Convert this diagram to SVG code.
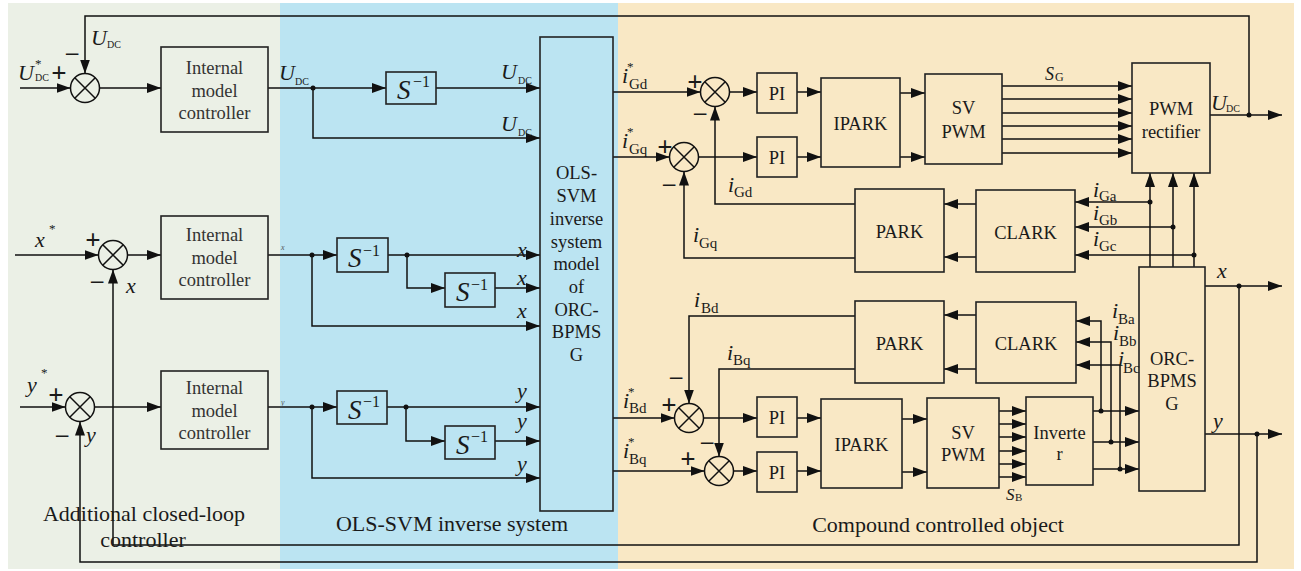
<svg xmlns="http://www.w3.org/2000/svg" width="1301" height="571" viewBox="0 0 1301 571">
<defs>
<marker id="ah" viewBox="0 0 14 10" refX="14" refY="5" markerWidth="14" markerHeight="10" markerUnits="userSpaceOnUse" orient="auto"><path d="M0,0 L14,5 L0,10 z" fill="#111"/></marker>
<style>
.ln{fill:none;stroke:#111;stroke-width:1.5}
.ar{fill:none;stroke:#111;stroke-width:1.5;marker-end:url(#ah)}
.bx{fill:none;stroke:#222;stroke-width:1.6}
.sm{fill:none;stroke:#111;stroke-width:1.5}
.dot{fill:#111}
text{font-family:"Liberation Serif","Times New Roman",serif;fill:#1a1a1a}
.bt{font-size:18.5px;text-anchor:middle}
.gt{fill:#333}
.v{font-style:italic;font-size:22px}
.u{font-style:italic;font-size:22px}
.sub{font-size:15px}
.dc{font-size:10px}
.st{font-size:13px}
.sg{font-size:27px;text-anchor:middle}
.pl{font-weight:bold}
.cap{font-size:22px;text-anchor:middle}
.S{font-style:italic;font-size:27px}
.e{font-size:16px}
.tiny{font-size:8px;font-style:italic;fill:#555}
</style>
</defs>

<g id="panels">
<rect x="8" y="3" width="272" height="566" fill="#EBF0E6"/>
<rect x="280" y="3" width="338" height="566" fill="#BBE4F2"/>
<rect x="618" y="3" width="676" height="566" fill="#F9E8C5"/>
</g>

<g id="connectors">
<path class="ar" d="M20,88 H70.5"/>
<path class="ar" d="M1249,115 V16 H85 V73.5"/>
<path class="ar" d="M99.5,88 H161"/>
<path class="ar" d="M268,88 H386"/>
<path class="ar" d="M436,88 H540"/>
<path class="ar" d="M313,88 V138 H540"/>
<path class="ar" d="M613,92 H700.5"/>
<path class="ar" d="M613,157 H669.5"/>
<path class="ar" d="M729.5,92 H757"/>
<path class="ar" d="M698.5,157 H757"/>
<path class="ar" d="M797,92 H821"/>
<path class="ar" d="M797,157 H821"/>
<path class="ar" d="M900,93 H925"/>
<path class="ar" d="M900,157 H925"/>
<path class="ar" d="M1002,86 H1132"/>
<path class="ar" d="M1002,99 H1132"/>
<path class="ar" d="M1002,113 H1132"/>
<path class="ar" d="M1002,126 H1132"/>
<path class="ar" d="M1002,139 H1132"/>
<path class="ar" d="M1002,153 H1132"/>
<path class="ar" d="M1210,115 H1282"/>
<path class="ar" d="M1150,267 V173"/>
<path class="ar" d="M1173,267 V173"/>
<path class="ar" d="M1194,267 V173"/>
<path class="ar" d="M1150,202 H1075"/>
<path class="ar" d="M1173,227 H1075"/>
<path class="ar" d="M1194,255 H1075"/>
<path class="ar" d="M976,204 H944"/>
<path class="ar" d="M976,257 H944"/>
<path class="ar" d="M855,204 H715 V106.5"/>
<path class="ar" d="M855,258 H684 V171.5"/>

<path class="ar" d="M15,255 H98.5"/>
<path class="ar" d="M127.5,255 H161"/>
<path class="ar" d="M268,255 H337"/>
<path class="ar" d="M388,255 H540"/>
<path class="ar" d="M407,255 V288 H445"/>
<path class="ar" d="M495,288 H540"/>
<path class="ar" d="M312,255 V326 H540"/>
<path class="ar" d="M1205,286 H1282"/>
<path class="ar" d="M1239,286 V545 H113 V269.5"/>

<path class="ar" d="M20,407 H65.5"/>
<path class="ar" d="M94.5,407 H161"/>
<path class="ar" d="M268,407 H337"/>
<path class="ar" d="M387,407 H540"/>
<path class="ar" d="M406,407 V441 H445"/>
<path class="ar" d="M495,441 H540"/>
<path class="ar" d="M312,407 V478 H540"/>
<path class="ar" d="M1205,434 H1282"/>
<path class="ar" d="M1257,434 V562 H80 V421.5"/>

<path class="ar" d="M613,418 H674.5"/>
<path class="ar" d="M613,471 H704.5"/>
<path class="ar" d="M855,316 H689 V403.5"/>
<path class="ar" d="M855,369 H719 V456.5"/>
<path class="ar" d="M703.5,418 H757"/>
<path class="ar" d="M733.5,471 H757"/>
<path class="ar" d="M797,418 H821"/>
<path class="ar" d="M797,471 H821"/>
<path class="ar" d="M902,419 H927"/>
<path class="ar" d="M902,472 H927"/>
<path class="ar" d="M999,411 H1026"/>
<path class="ar" d="M999,424 H1026"/>
<path class="ar" d="M999,437 H1026"/>
<path class="ar" d="M999,451 H1026"/>
<path class="ar" d="M999,464 H1026"/>
<path class="ar" d="M999,477 H1026"/>
<path class="ar" d="M1093,411 H1139"/>
<path class="ar" d="M1093,442 H1139"/>
<path class="ar" d="M1093,469 H1139"/>
<path class="ar" d="M1101,411 V321 H1076"/>
<path class="ar" d="M1111,442 V342 H1076"/>
<path class="ar" d="M1120,469 V365 H1076"/>
<path class="ar" d="M976,315 H944"/>
<path class="ar" d="M976,369 H944"/>

<circle class="dot" cx="313" cy="88" r="2.5"/>
<circle class="dot" cx="1249" cy="115" r="2.5"/>
<circle class="dot" cx="1150" cy="202" r="2.5"/>
<circle class="dot" cx="1173" cy="227" r="2.5"/>
<circle class="dot" cx="1194" cy="255" r="2.5"/>
<circle class="dot" cx="312" cy="255" r="2.5"/>
<circle class="dot" cx="407" cy="255" r="2.5"/>
<circle class="dot" cx="1239" cy="286" r="2.5"/>
<circle class="dot" cx="312" cy="407" r="2.5"/>
<circle class="dot" cx="406" cy="407" r="2.5"/>
<circle class="dot" cx="1257" cy="434" r="2.5"/>
<circle class="dot" cx="1101" cy="411" r="2.5"/>
<circle class="dot" cx="1111" cy="442" r="2.5"/>
<circle class="dot" cx="1120" cy="469" r="2.5"/>
</g>

<g id="sum1"><circle class="sm" cx="85" cy="88" r="14.5"/><path class="sm" d="M74.75,77.75 L95.25,98.25 M95.25,77.75 L74.75,98.25"/></g>
<g id="sum2"><circle class="sm" cx="715" cy="92" r="14.5"/><path class="sm" d="M704.75,81.75 L725.25,102.25 M725.25,81.75 L704.75,102.25"/></g>
<g id="sum3"><circle class="sm" cx="684" cy="157" r="14.5"/><path class="sm" d="M673.75,146.75 L694.25,167.25 M694.25,146.75 L673.75,167.25"/></g>
<g id="sum4"><circle class="sm" cx="113" cy="255" r="14.5"/><path class="sm" d="M102.75,244.75 L123.25,265.25 M123.25,244.75 L102.75,265.25"/></g>
<g id="sum5"><circle class="sm" cx="80" cy="407" r="14.5"/><path class="sm" d="M69.75,396.75 L90.25,417.25 M90.25,396.75 L69.75,417.25"/></g>
<g id="sum6"><circle class="sm" cx="689" cy="418" r="14.5"/><path class="sm" d="M678.75,407.75 L699.25,428.25 M699.25,407.75 L678.75,428.25"/></g>
<g id="sum7"><circle class="sm" cx="719" cy="471" r="14.5"/><path class="sm" d="M708.75,460.75 L729.25,481.25 M729.25,460.75 L708.75,481.25"/></g>

<g id="imc1"><rect class="bx" x="161" y="47" width="107" height="85"/>
<text class="bt gt" x="214.5" y="74">Internal</text><text class="bt gt" x="214.5" y="97">model</text><text class="bt gt" x="214.5" y="119">controller</text></g>
<g id="imc2"><rect class="bx" x="161" y="216" width="107" height="83"/>
<text class="bt gt" x="214.5" y="241">Internal</text><text class="bt gt" x="214.5" y="264">model</text><text class="bt gt" x="214.5" y="286">controller</text></g>
<g id="imc3"><rect class="bx" x="161" y="371" width="107" height="78"/>
<text class="bt gt" x="214.5" y="394">Internal</text><text class="bt gt" x="214.5" y="417">model</text><text class="bt gt" x="214.5" y="439">controller</text></g>

<g id="sinv1"><rect class="bx" x="386" y="72" width="50" height="32"/><text class="S" x="397" y="99">S</text><text class="e" x="413" y="87">−1</text></g>
<g id="sinv2"><rect class="bx" x="337" y="238" width="51" height="34"/><text class="S" x="348" y="267">S</text><text class="e" x="363" y="256">−1</text></g>
<g id="sinv3"><rect class="bx" x="445" y="273" width="50" height="34"/><text class="S" x="456" y="301">S</text><text class="e" x="471" y="290">−1</text></g>
<g id="sinv4"><rect class="bx" x="337" y="391" width="50" height="33"/><text class="S" x="348" y="419">S</text><text class="e" x="363" y="407">−1</text></g>
<g id="sinv5"><rect class="bx" x="445" y="426" width="50" height="33"/><text class="S" x="456" y="454">S</text><text class="e" x="471" y="442">−1</text></g>

<g id="olssvm"><rect class="bx" x="540" y="37" width="73" height="474"/>
<text class="bt" x="576.5" y="179">OLS-</text><text class="bt" x="576.5" y="202">SVM</text><text class="bt" x="576.5" y="225">inverse</text><text class="bt" x="576.5" y="248">system</text><text class="bt" x="576.5" y="270">model</text><text class="bt" x="576.5" y="293">of</text><text class="bt" x="576.5" y="316">ORC-</text><text class="bt" x="576.5" y="338">BPMS</text><text class="bt" x="576.5" y="361">G</text></g>

<g id="pi1"><rect class="bx" x="757" y="73" width="40" height="40"/><text class="bt" x="777" y="100">PI</text></g>
<g id="pi2"><rect class="bx" x="757" y="137" width="40" height="40"/><text class="bt" x="777" y="164">PI</text></g>
<g id="pi3"><rect class="bx" x="757" y="397" width="40" height="40"/><text class="bt" x="777" y="424">PI</text></g>
<g id="pi4"><rect class="bx" x="757" y="452" width="40" height="40"/><text class="bt" x="777" y="479">PI</text></g>

<g id="ipark1"><rect class="bx" x="821" y="78" width="79" height="89"/><text class="bt" x="860.5" y="130">IPARK</text></g>
<g id="ipark2"><rect class="bx" x="821" y="399" width="81" height="89"/><text class="bt" x="861.5" y="451">IPARK</text></g>

<g id="svpwm1"><rect class="bx" x="925" y="74" width="77" height="90"/><text class="bt" x="963.5" y="114">SV</text><text class="bt" x="963.5" y="138">PWM</text></g>
<g id="svpwm2"><rect class="bx" x="927" y="398" width="72" height="90"/><text class="bt" x="963" y="439">SV</text><text class="bt" x="963" y="461">PWM</text></g>

<g id="pwmrect"><rect class="bx" x="1132" y="63" width="78" height="110"/><text class="bt" x="1171" y="115">PWM</text><text class="bt" x="1171" y="138">rectifier</text></g>

<g id="park1"><rect class="bx" x="855" y="189" width="89" height="83"/><text class="bt" x="899.5" y="238">PARK</text></g>
<g id="clark1"><rect class="bx" x="976" y="190" width="99" height="82"/><text class="bt" x="1025.5" y="239">CLARK</text></g>
<g id="park2"><rect class="bx" x="855" y="301" width="89" height="82"/><text class="bt" x="899.5" y="350">PARK</text></g>
<g id="clark2"><rect class="bx" x="976" y="302" width="100" height="81"/><text class="bt" x="1026" y="350">CLARK</text></g>

<g id="orc"><rect class="bx" x="1139" y="267" width="66" height="224"/><text class="bt" x="1172" y="365">ORC-</text><text class="bt" x="1172" y="387">BPMS</text><text class="bt" x="1172" y="410">G</text></g>

<g id="inverter"><rect class="bx" x="1026" y="397" width="67" height="88"/><text class="bt" x="1059.5" y="439">Inverte</text><text class="bt" x="1059.5" y="460">r</text></g>

<g id="labels">
<text class="sg pl" x="59" y="82">+</text><text class="sg" x="72" y="63">−</text>
<text class="sg pl" x="695" y="91">+</text><text class="sg" x="700" y="123">−</text>
<text class="sg pl" x="665" y="156">+</text><text class="sg" x="669" y="194">−</text>
<text class="sg pl" x="93" y="249">+</text><text class="sg" x="97" y="291">−</text>
<text class="sg pl" x="56" y="404">+</text><text class="sg" x="62" y="445">−</text>
<text class="sg pl" x="669" y="414">+</text><text class="sg" x="676" y="387">−</text>
<text class="sg pl" x="688" y="468">+</text><text class="sg" x="707" y="452">−</text>

<text class="u" x="18" y="80">U</text><text class="st" x="35" y="68">*</text><text class="dc" x="35" y="81">DC</text>
<text class="u" x="91" y="45">U</text><text class="dc" x="107" y="48">DC</text>
<text class="u" x="279" y="80">U</text><text class="dc" x="295" y="85">DC</text>
<text class="u" x="501" y="79">U</text><text class="dc" x="518" y="84">DC</text>
<text class="u" x="501" y="131">U</text><text class="dc" x="518" y="136">DC</text>
<text class="u" x="1211" y="110">U</text><text class="dc" x="1226" y="112">DC</text>

<text class="v" x="35" y="247">x</text><text class="st" x="49" y="233">*</text>
<text class="v" x="126" y="293">x</text>
<text class="v" x="27" y="392">y</text><text class="st" x="41" y="377">*</text>
<text class="v" x="86" y="442">y</text>
<text class="tiny" x="281" y="250">x</text>
<text class="tiny" x="281" y="405">y</text>
<text class="v" x="517" y="257">x</text>
<text class="v" x="517" y="285">x</text>
<text class="v" x="517" y="318">x</text>
<text class="v" x="517" y="398">y</text>
<text class="v" x="517" y="428">y</text>
<text class="v" x="517" y="471">y</text>
<text class="v" x="1217" y="278">x</text>
<text class="v" x="1213" y="428">y</text>

<text class="v" x="622" y="83">i</text><text class="st" x="627" y="71">*</text><text class="sub" x="629" y="89">Gd</text>
<text class="v" x="622" y="148">i</text><text class="st" x="627" y="136">*</text><text class="sub" x="629" y="154">Gq</text>
<text class="v" x="728" y="192">i</text><text class="sub" x="734" y="197">Gd</text>
<text class="v" x="693" y="242">i</text><text class="sub" x="699" y="248">Gq</text>
<text class="v" x="694" y="307">i</text><text class="sub" x="701" y="313">Bd</text>
<text class="v" x="727" y="360">i</text><text class="sub" x="733" y="365">Bq</text>
<text class="v" x="623" y="408">i</text><text class="st" x="628" y="396">*</text><text class="sub" x="629" y="413">Bd</text>
<text class="v" x="623" y="458">i</text><text class="st" x="628" y="446">*</text><text class="sub" x="629" y="464">Bq</text>
<text class="v" x="1093" y="197">i</text><text class="sub" x="1099" y="201">Ga</text>
<text class="v" x="1093" y="220">i</text><text class="sub" x="1099" y="225">Gb</text>
<text class="v" x="1093" y="246">i</text><text class="sub" x="1099" y="251">Gc</text>
<text class="v" x="1112" y="318">i</text><text class="sub" x="1118" y="324">Ba</text>
<text class="v" x="1113" y="340">i</text><text class="sub" x="1119" y="346">Bb</text>
<text class="v" x="1118" y="366">i</text><text class="sub" x="1123" y="373">Bc</text>

<text style="font-style:italic;font-size:18px" x="1045" y="80">S</text><text style="font-size:12px" x="1055" y="81">G</text>
<text style="font-style:italic;font-size:17px" x="1006" y="500">S</text><text style="font-size:11px" x="1015" y="501">B</text>

<text class="cap" x="144" y="521">Additional closed-loop</text>
<text class="cap" x="143" y="547">controller</text>
<text class="cap" x="452" y="531">OLS-SVM inverse system</text>
<text class="cap" x="938" y="532">Compound controlled object</text>
</g>
</svg>
